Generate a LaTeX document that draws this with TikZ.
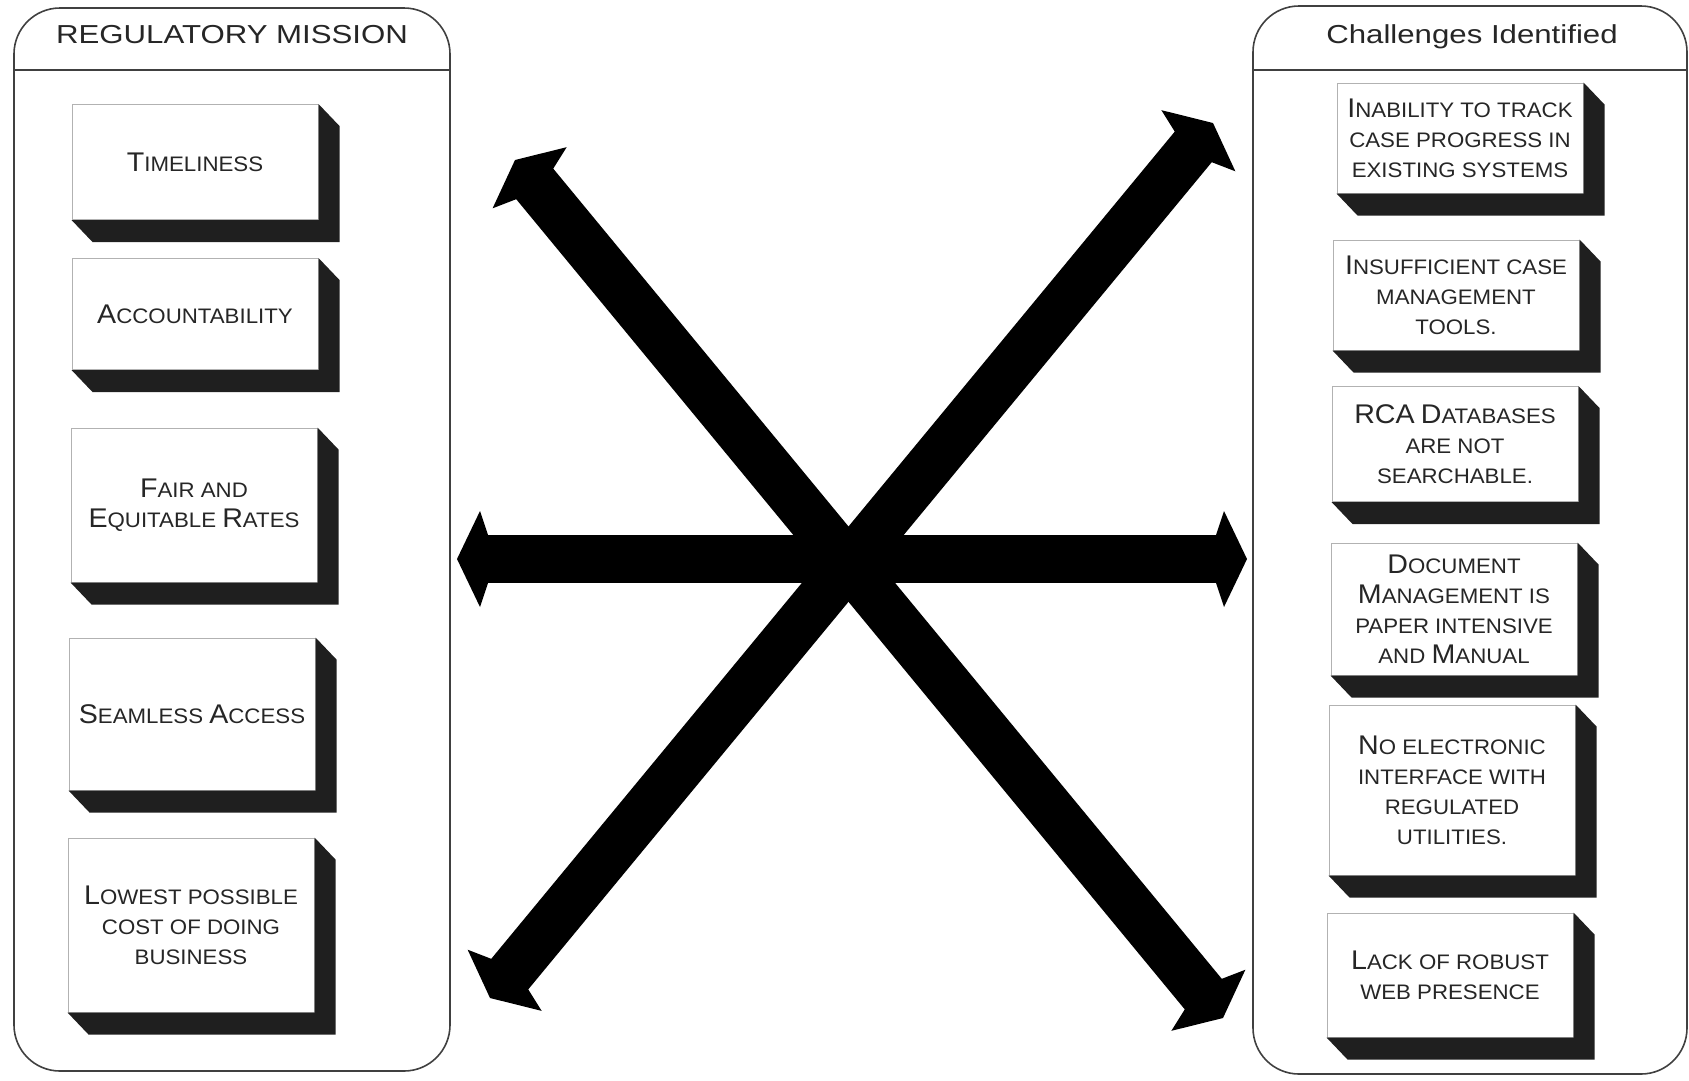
\documentclass[tikz,border=0pt]{standalone}
\usepackage{fontspec}
\setmainfont{Liberation Sans}
\newfontfamily\hdfont[FakeStretch=1.2]{Liberation Sans}
\newfontfamily\bxfont[FakeStretch=1.06]{Liberation Sans}
\usetikzlibrary{calc}
\newcommand{\bc}[1]{{\fontsize{27}{30}\selectfont #1}}
\newcommand{\arhead}[2]{\fill[ahd] (#1) -- ($(#1)!23pt!(#2)!48pt!90:(#2)$) -- ($(#1)!31pt!(#2)!24pt!90:(#2)$) -- ($(#1)!31pt!(#2)!24pt!-90:(#2)$) -- ($(#1)!23pt!(#2)!48pt!-90:(#2)$) -- cycle;}

\begin{document}
\begin{tikzpicture}[x=1pt, y=-1pt,
  panel/.style={draw=black!75, line width=1.6pt, rounded corners=46pt, minimum width=#1, inner sep=0pt},
  hline/.style={draw=black!75, line width=1.6pt},
  ttl/.style={anchor=base, inner sep=0pt, text=black!85, font=\hdfont\fontsize{26}{30}\selectfont},
  b/.style={draw=black!30, line width=1pt, fill=white, minimum width=246pt, minimum height=#1pt, inner sep=2pt, align=center, text=black!85, font=\bxfont\fontsize{21}{30}\selectfont},
  ext/.style={fill=black!88},
  arr/.style={line width=48pt, shorten <=28pt, shorten >=28pt},
  ahd/.style={fill=black}
]
  \useasboundingbox (0,0) rectangle (1689,1080);

  \node[panel=436pt, minimum height=1063pt] (lpan) at (232,539.5) {};
  \node[panel=434pt, minimum height=1068pt] (rpan) at (1470,540) {};
  \coordinate (hy) at (0,70);
  \draw[hline] (lpan.west |- hy) -- (lpan.east |- hy);
  \draw[hline] (rpan.west |- hy) -- (rpan.east |- hy);
  \node[ttl] (ltl) at (232,43) {REGULATORY MISSION};
  \node[ttl] (rtl) at (1472,43) {Challenges Identified};

  \node[b=115] (tim) at (195,162) {\bc{T}IMELINESS};
  \node[b=111] (acc) at (195,314) {\bc{A}CCOUNTABILITY};
  \node[b=154] (fair) at (194,505) {\bc{F}AIR AND\\\bc{E}QUITABLE \bc{R}ATES};
  \node[b=152] (seam) at (192,714) {\bc{S}EAMLESS \bc{A}CCESS};
  \node[b=174] (low) at (191,925) {\bc{L}OWEST POSSIBLE\\COST OF DOING\\BUSINESS};

  \node[b=110] (trk) at (1460,138) {\bc{I}NABILITY TO TRACK\\CASE PROGRESS IN\\EXISTING SYSTEMS};
  \node[b=110] (tool) at (1456,295) {\bc{I}NSUFFICIENT CASE\\MANAGEMENT\\TOOLS.};
  \node[b=115] (rca) at (1455,444) {\bc{RCA} \bc{D}ATABASES\\ARE NOT\\SEARCHABLE.};
  \node[b=132] (doc) at (1454,609) {\bc{D}OCUMENT\\\bc{M}ANAGEMENT IS\\PAPER INTENSIVE\\AND \bc{M}ANUAL};
  \node[b=170] (intf) at (1452,790) {\bc{N}O ELECTRONIC\\INTERFACE WITH\\REGULATED\\UTILITIES.};
  \node[b=124] (web) at (1450,975) {\bc{L}ACK OF ROBUST\\WEB PRESENCE};

  \foreach \n in {tim,acc,fair,seam,low,trk,tool,rca,doc,intf,web}
    \fill[ext] (\n.north east) -- ++(21,22) -- ($(\n.south east)+(21,22)$) -- ($(\n.south west)+(21,22)$) -- (\n.south west) -- (\n.south east) -- cycle;

  \coordinate (hl) at (457,559);
  \coordinate (hr) at (1247,559);
  \coordinate (dtl) at (515,160);
  \coordinate (dbr) at (1223,1018);
  \coordinate (dbl) at (490,998);
  \coordinate (dtr) at (1213,123);
  \draw[arr] (hl) -- (hr);
  \draw[arr] (dtl) -- (dbr);
  \draw[arr] (dbl) -- (dtr);
  \arhead{hl}{hr} \arhead{hr}{hl}
  \arhead{dtl}{dbr} \arhead{dbr}{dtl}
  \arhead{dbl}{dtr} \arhead{dtr}{dbl}
\end{tikzpicture}
\end{document}
